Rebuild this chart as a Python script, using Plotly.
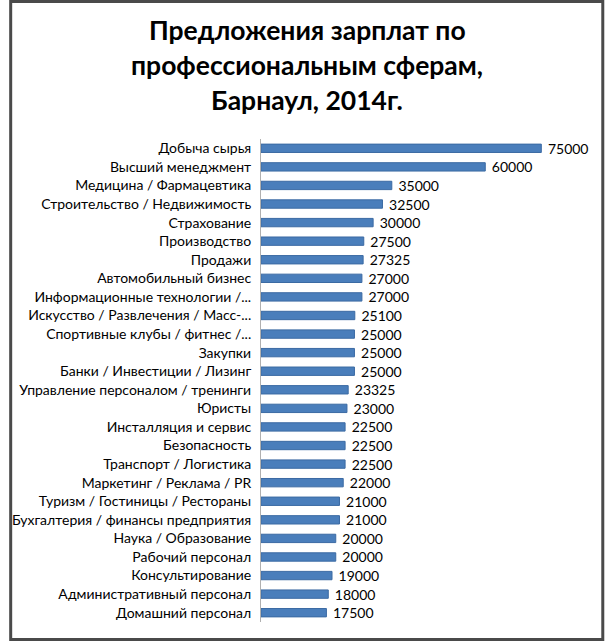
import plotly.graph_objects as go

categories = [
    "Добыча сырья", "Высший менеджмент", "Медицина / Фармацевтика",
    "Строительство / Недвижимость", "Страхование", "Производство", "Продажи",
    "Автомобильный бизнес", "Информационные технологии /...",
    "Искусство / Развлечения / Масс-...", "Спортивные клубы / фитнес /...",
    "Закупки", "Банки / Инвестиции / Лизинг", "Управление персоналом / тренинги",
    "Юристы", "Инсталляция и сервис", "Безопасность", "Транспорт / Логистика",
    "Маркетинг / Реклама / PR", "Туризм / Гостиницы / Рестораны",
    "Бухгалтерия / финансы предприятия", "Наука / Образование",
    "Рабочий персонал", "Консультирование", "Административный персонал",
    "Домашний персонал",
]
values = [75000, 60000, 35000, 32500, 30000, 27500, 27325, 27000, 27000, 25100,
          25000, 25000, 25000, 23325, 23000, 22500, 22500, 22500, 22000, 21000,
          21000, 20000, 20000, 19000, 18000, 17500]
title_lines = ["Предложения зарплат по", "профессиональным сферам,", "Барнаул, 2014г."]

W, H = 606, 642
L, R, T, B = 256, 46, 139, 20
pw, ph = W - L - R, H - T - B
FONT = "Lato, Open Sans, sans-serif"

fig = go.Figure(go.Bar(
    y=categories, x=values, orientation="h",
    marker=dict(color="#4a7ebb", line=dict(color="#3b6aa3", width=1)),
    width=0.45,
    text=[" " + str(v) for v in values], textposition="outside",
    constraintext="none",
    textfont=dict(family=FONT, size=14, color="black"),
    cliponaxis=False,
))

fig.update_layout(
    width=W, height=H,
    margin=dict(l=L, r=R, t=T, b=B),
    paper_bgcolor="white", plot_bgcolor="white",
    showlegend=False,
    xaxis=dict(range=[0, 80000], visible=False, showgrid=False, zeroline=False, fixedrange=True),
    yaxis=dict(autorange="reversed", showline=True, linecolor="#b0b0b0", linewidth=1,
               ticks="", showgrid=False, ticklabelstandoff=6, fixedrange=True,
               tickfont=dict(family=FONT, size=14, color="black")),
)

title_y = [30, 65, 100]
for line, yy in zip(title_lines, title_y):
    fig.add_annotation(text=line, xref="paper", yref="paper",
                       x=(W / 2 - L) / pw, y=(H - B - yy) / ph,
                       xanchor="center", yanchor="middle", showarrow=False,
                       font=dict(family=FONT, size=26.5, color="black", weight="bold"))

fig.add_shape(type="rect", xref="paper", yref="paper",
              x0=(1.5 - L) / pw, x1=(W - L - 2.5) / pw,
              y0=-(B - 2.5) / ph, y1=(H - B - 1.5) / ph,
              line=dict(color="#4a4a4a", width=3))

fig.write_html("out.html", config={"displayModeBar": False},
               post_script="document.body.style.margin='0';document.body.style.overflow='hidden';")
